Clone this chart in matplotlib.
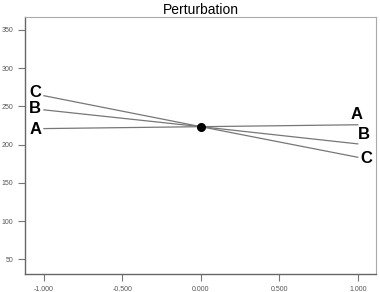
import matplotlib
matplotlib.use('Agg')
import matplotlib.pyplot as plt

plt.rcParams['font.family'] = ['Liberation Sans', 'DejaVu Sans']

# perturbation levels and response at each end
x_levels = [-1.0, 0.0, 1.0]
factors = ['A', 'B', 'C']
resp_A = [221, 223.5, 226]
resp_B = [245.5, 223.5, 201]
resp_C = [264, 223.5, 183.5]
ref_point = (0.0, 223.5)

x_ticks = [-1.0, -0.5, 0.0, 0.5, 1.0]
x_ticklabels = ['-1.000', '-0.500', '0.000', '0.500', '1.000']
y_ticks = [50, 100, 150, 200, 250, 300, 350]

fig = plt.figure(figsize=(3.8, 2.92), dpi=100)
ax = fig.add_axes([0.066, 0.062, 0.923, 0.88])

series = {'A': resp_A, 'B': resp_B, 'C': resp_C}
left_off = {'A': (-2, -1), 'B': (-2, 1), 'C': (-2, 2)}
right_off = {'A': (-1, 2), 'B': (0, 1), 'C': (2, -1)}
right_va = {'A': 'bottom', 'B': 'bottom', 'C': 'center'}
right_ha = {'A': 'center', 'B': 'left', 'C': 'left'}

for f in factors:
    y = series[f]
    ax.plot(x_levels, y, color='#777777', lw=0.9, zorder=2)
    ax.annotate(f, xy=(x_levels[0], y[0]), xytext=left_off[f], textcoords='offset points',
                ha='right', va='center', fontsize=12, fontweight='bold')
    ax.annotate(f, xy=(x_levels[-1], y[-1]), xytext=right_off[f], textcoords='offset points',
                ha=right_ha[f], va=right_va[f], fontsize=12, fontweight='bold')

ax.plot([ref_point[0]], [ref_point[1]], 'o', color='black', ms=5.5, zorder=3)

ax.set_xlim(-1.12, 1.115)
ax.set_ylim(31, 367)
ax.set_xticks(x_ticks)
ax.set_xticklabels(x_ticklabels)
ax.set_yticks(y_ticks)
ax.tick_params(labelsize=5, labelcolor='#555555', color='#777777', length=5, width=0.8, direction='out')

for s in ['left', 'bottom']:
    ax.spines[s].set_color('#666666')
    ax.spines[s].set_linewidth(1.0)
for s in ['top', 'right']:
    ax.spines[s].set_color('#aaaaaa')
    ax.spines[s].set_linewidth(0.8)

ax.set_title('Perturbation', fontsize=10, pad=2)

fig.savefig('out.png', dpi=100)
